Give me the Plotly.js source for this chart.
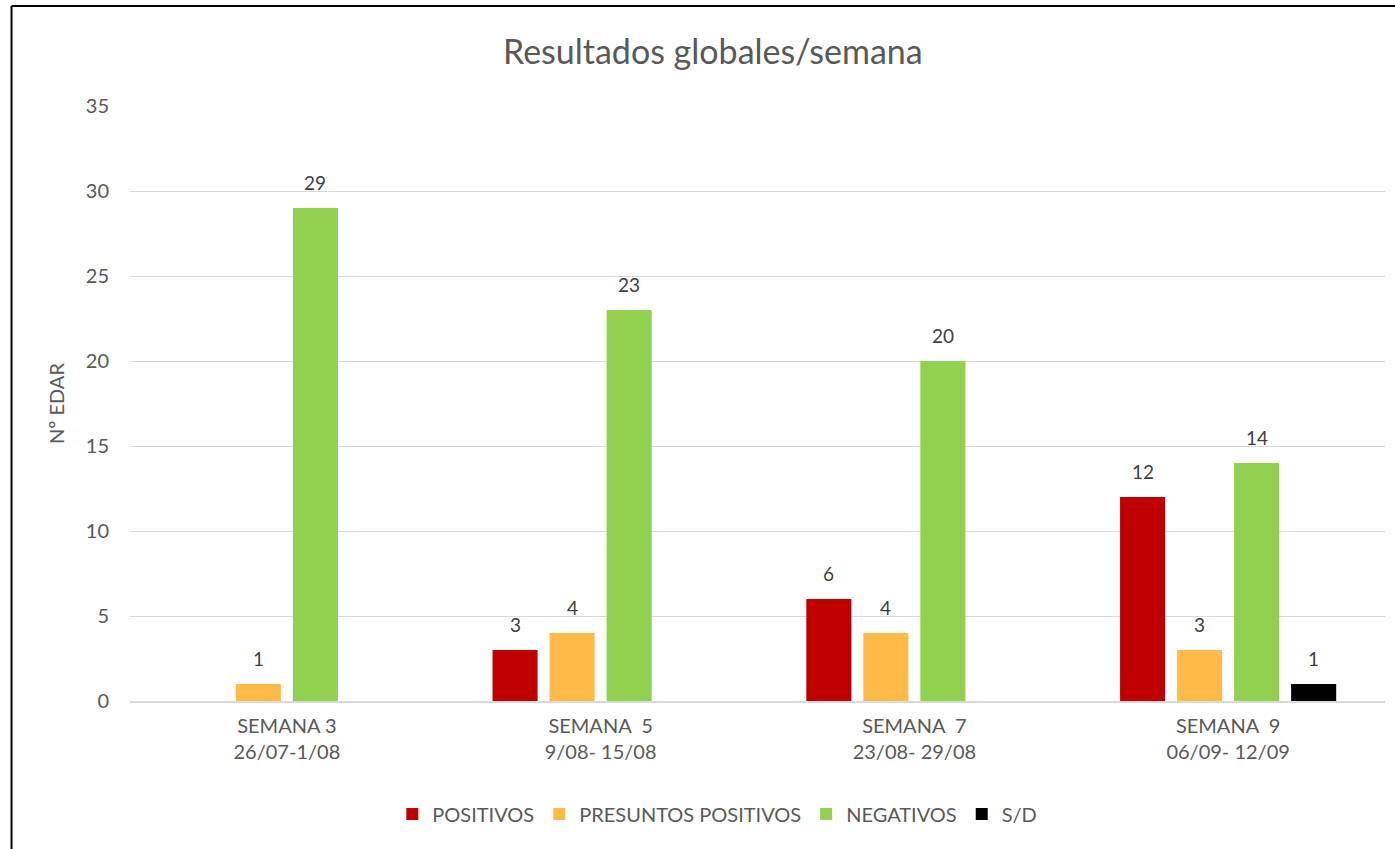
<!DOCTYPE html>
<html>
<head>
<meta charset="utf-8">
<script src="https://cdn.plot.ly/plotly-3.0.1.min.js"></script>
<style>html,body{margin:0;padding:0;background:#fff;}#chart{width:1395px;height:849px;}</style>
</head>
<body>
<div id="chart"></div>
<script>
const categories = ["SEMANA 3<br>26/07-1/08", "SEMANA  5<br>9/08- 15/08", "SEMANA  7<br>23/08- 29/08", "SEMANA  9<br>06/09- 12/09"];
const positivos = [null, 3, 6, 12];
const presuntos = [1, 4, 4, 3];
const negativos = [29, 23, 20, 14];
const sd = [null, null, null, 1];
const seriesNames = ["POSITIVOS", "PRESUNTOS POSITIVOS", "NEGATIVOS", "S/D"];
const seriesColors = ["#C00000", "#FFBA47", "#92D050", "#000000"];
const seriesValues = [positivos, presuntos, negativos, sd];

const font = "Lato, 'Open Sans', sans-serif";
const bargap = 0.273;
const nSeries = seriesValues.length;
const slot = (1 - bargap) / nSeries;

const traces = seriesValues.map((vals, i) => ({
  type: 'bar',
  name: seriesNames[i],
  x: categories,
  y: vals,
  marker: {color: seriesColors[i]},
  hoverinfo: 'none'
}));

const annotations = [];
seriesValues.forEach((vals, j) => {
  vals.forEach((v, i) => {
    if (v === null) return;
    annotations.push({
      xref: 'x', yref: 'y', x: i + (j - (nSeries - 1) / 2) * slot, y: v,
      text: String(v), showarrow: false, xanchor: 'center', yanchor: 'bottom', yshift: 12,
      font: {family: font, size: 19, color: '#404040'}
    });
  });
});

const layout = {
  width: 1395, height: 849,
  margin: {l: 130, r: 10, t: 106, b: 148},
  paper_bgcolor: '#fff', plot_bgcolor: '#fff',
  barmode: 'group', bargap: bargap, bargroupgap: 0.21,
  font: {family: font, color: '#595959'},
  title: {text: 'Resultados globales/semana', font: {family: font, size: 34, color: '#595959'},
          x: 0.511, xref: 'container', y: 0.939, yref: 'container', xanchor: 'center', yanchor: 'middle'},
  xaxis: {tickfont: {family: font, size: 20, color: '#595959'}, showline: true, linecolor: '#d9d9d9', linewidth: 2,
          ticks: '', ticklabelstandoff: 6, fixedrange: true},
  yaxis: {range: [0, 35], dtick: 5, tickfont: {family: font, size: 20, color: '#595959'},
          gridcolor: '#d9d9d9', gridwidth: 1, zeroline: false, ticks: '', ticklabelstandoff: 20,
          title: {text: 'Nº EDAR', font: {family: font, size: 20, color: '#595959'}, standoff: 15}},
  legend: {orientation: 'h', x: 0.468, xanchor: 'center', y: -0.19, yanchor: 'middle',
           font: {family: font, size: 20, color: '#595959'}, traceorder: 'normal', itemwidth: 30},
  showlegend: true,
  annotations: annotations,
  shapes: [
    {type: 'line', xref: 'paper', yref: 'paper', x0: -0.0944, x1: -0.0944, y0: 1.168, y1: -0.3, line: {color: '#000', width: 2}},
    {type: 'line', xref: 'paper', yref: 'paper', x0: -0.0944, x1: 1.05, y0: 1.168, y1: 1.168, line: {color: '#000', width: 2}}
  ]
};
Plotly.newPlot('chart', traces, layout, {displayModeBar: false, staticPlot: true});
</script>
</body>
</html>
